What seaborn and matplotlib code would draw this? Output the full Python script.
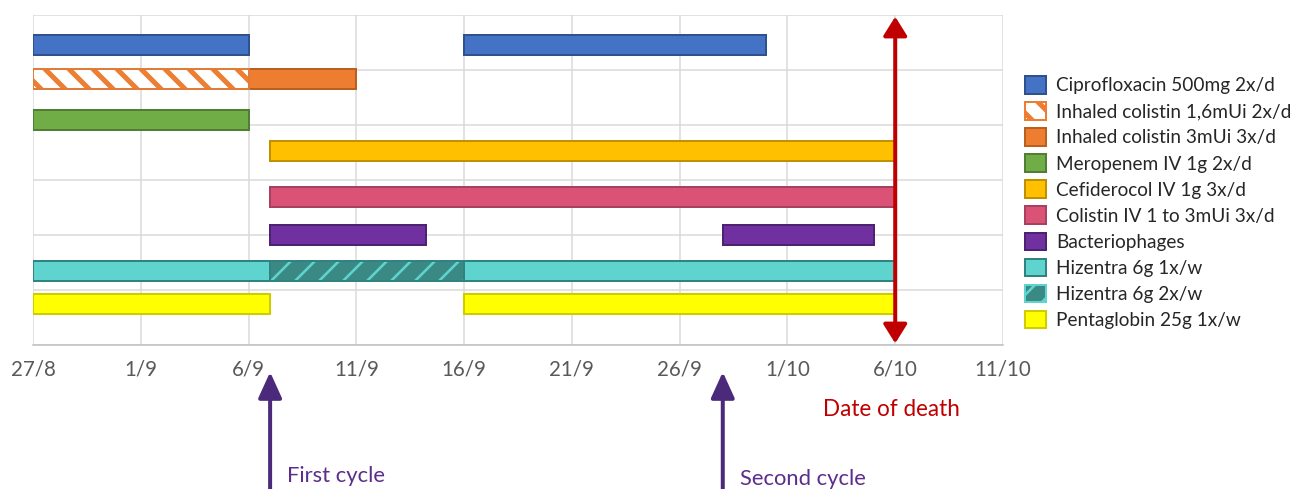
import matplotlib
matplotlib.use("Agg")
from matplotlib import pyplot as plt
from matplotlib.patches import Patch
from matplotlib.ticker import MultipleLocator, NullFormatter
import matplotlib.dates as mdates
import numpy as np
import pandas as pd
import seaborn as sns

# treatments as shown in the legend
labels = ["Ciprofloxacin 500mg 2x/d", "Inhaled colistin 1,6mUi 2x/d",
          "Inhaled colistin 3mUi 3x/d", "Meropenem IV 1g 2x/d",
          "Cefiderocol IV 1g 3x/d", "Colistin IV 1 to 3mUi 3x/d",
          "Bacteriophages", "Hizentra 6g 1x/w", "Hizentra 6g 2x/w",
          "Pentaglobin 25g 1x/w"]

# one entry per bar segment: row of the chart, legend item, start, end
seg_row = [0, 0, 1, 1, 2, 3, 4, 5, 5, 6, 6, 6, 7, 7]
seg_item = [0, 0, 1, 2, 3, 4, 5, 6, 6, 7, 8, 7, 9, 9]
seg_start = ["2020-08-27", "2020-09-16", "2020-08-27", "2020-09-06",
             "2020-08-27", "2020-09-07", "2020-09-07", "2020-09-07",
             "2020-09-28", "2020-08-27", "2020-09-07", "2020-09-16",
             "2020-08-27", "2020-09-16"]
seg_end = ["2020-09-06", "2020-09-30", "2020-09-06", "2020-09-11",
           "2020-09-06", "2020-10-06", "2020-10-06", "2020-09-14 06:00",
           "2020-10-05", "2020-09-07", "2020-09-16", "2020-10-06",
           "2020-09-07", "2020-10-06"]

death_date = "2020-10-06"
cycle_dates = ["2020-09-07", "2020-09-28"]
cycle_names = ["First cycle", "Second cycle"]
axis_start, axis_end = "2020-08-27", "2020-10-11"

# styling per legend item: fill, border, hatch
fills = ["#4472C4", "#FFFFFF", "#ED7D31", "#70AD47", "#FFC000", "#DA5377",
         "#7030A0", "#5FD3CD", "#3A8985", "#FFFF00"]
borders = ["#2F528F", "#E07B39", "#B9601F", "#507E32", "#BF9000", "#A8405F",
           "#4E2272", "#2F8380", "#2F8380", "#CFCC00"]
hatch_cols = [None, "#ED7D31", None, None, None, None, None, None, "#5FD3CD", None]
hatches = [None, "\\", None, None, None, None, None, None, "/", None]
hatch_lw = [0, 5.0, 0, 0, 0, 0, 0, 0, 2.6, 0]

# vertical layout (row centres on a 0..6 grid)
row_y = [5.455, 4.836, 4.091, 3.527, 2.697, 2.006, 1.349, 0.745]
bar_h = 0.36

sns.set_theme(style="white")
plt.rcParams["font.family"] = ["Lato", "DejaVu Sans"]
plt.rcParams["hatch.linewidth"] = 4.0

DPI = 72
fig = plt.figure(figsize=(1298 / DPI, 489 / DPI), dpi=DPI)
ax = fig.add_axes([33 / 1298, 1 - 345 / 489, (1003 - 33) / 1298, 330 / 489])

to_num = lambda s: mdates.date2num(pd.Timestamp(s))

for r, it, s, e in zip(seg_row, seg_item, seg_start, seg_end):
    left = to_num(s)
    width = to_num(e) - left
    y = row_y[r]
    if hatches[it]:
        b = ax.barh(y, width, left=left, height=bar_h, color=fills[it],
                    edgecolor=hatch_cols[it], hatch=hatches[it], linewidth=0, zorder=3)
        for p in b:
            if hasattr(p, "set_hatch_linewidth"):
                p.set_hatch_linewidth(hatch_lw[it])
    else:
        ax.barh(y, width, left=left, height=bar_h, color=fills[it],
                edgecolor=borders[it], linewidth=2, zorder=3)

# outlines over hatched segments
for r, it, s, e in zip(seg_row, seg_item, seg_start, seg_end):
    if hatches[it]:
        left = to_num(s)
        ax.barh(row_y[r], to_num(e) - left, left=left, height=bar_h,
                facecolor="none", edgecolor=borders[it], linewidth=2, zorder=4)

ax.set_xlim(to_num(axis_start), to_num(axis_end))
ax.set_ylim(0, 6)
major = pd.date_range(axis_start, axis_end, freq="5D")
ax.set_xticks(mdates.date2num(major))
ax.set_xticklabels([f"{d.day}/{d.month}" for d in major])
ax.xaxis.set_minor_locator(MultipleLocator(1))
ax.xaxis.set_minor_formatter(NullFormatter())
ax.set_yticks(range(7))
ax.set_yticklabels([])
ax.tick_params(axis="y", length=0)
ax.tick_params(axis="x", which="both", direction="inout", length=10, width=1.5,
               color="#BFBFBF", labelsize=20.5, labelcolor="#595959", pad=9)
ax.grid(True, which="major", color="#D9D9D9", linewidth=1.5, zorder=0)
ax.set_axisbelow(True)
for side in ["left", "top", "right"]:
    ax.spines[side].set_visible(False)
ax.spines["bottom"].set_color("#BFBFBF")
ax.spines["bottom"].set_linewidth(1.5)

# date of death arrow
dx = to_num(death_date)
ax.annotate("", xy=(dx, 5.97), xytext=(dx, 0.03),
            arrowprops=dict(arrowstyle="<|-|>,head_length=0.8,head_width=0.5",
                            color="#C00000", lw=4, mutation_scale=20,
                            shrinkA=0, shrinkB=0), zorder=6)
fig.text(891 / 1298, 1 - 409 / 489, "Date of death", color="#C00000",
         fontsize=22.5, ha="center", va="center")

# phage cycle arrows below the axis
for cd, name, ty in zip(cycle_dates, cycle_names, [476, 479]):
    cx = to_num(cd)
    ax.annotate("", xy=(cx, 117), xycoords=("data", "figure pixels"),
                xytext=(cx, -10), textcoords=("data", "figure pixels"),
                arrowprops=dict(arrowstyle="-|>,head_length=1.1,head_width=0.5",
                                color="#4B2A7B", lw=4, mutation_scale=20,
                                shrinkA=0, shrinkB=0), annotation_clip=False)
    xpix = ax.transData.transform((cx, 0))[0]
    fig.text((xpix + 17) / 1298, 1 - ty / 489, name, color="#5B2D8C",
             fontsize=22, ha="left", va="center")

handles = []
for i, lab in enumerate(labels):
    if hatches[i]:
        h = Patch(facecolor=fills[i], edgecolor=hatch_cols[i], hatch=hatches[i],
                  linewidth=2, label=lab)
    else:
        h = Patch(facecolor=fills[i], edgecolor=borders[i], linewidth=2, label=lab)
    handles.append(h)
leg = fig.legend(handles=handles, loc="upper left",
                 bbox_to_anchor=(1025 / 1298, 1 - 76 / 489),
                 frameon=False, fontsize=19, handlelength=1.1, handleheight=1.05,
                 handletextpad=0.55, labelspacing=0.41, borderpad=0, borderaxespad=0)
for p, lw in zip(leg.get_patches(), hatch_lw):
    if lw and hasattr(p, "set_hatch_linewidth"):
        p.set_hatch_linewidth(lw)

fig.savefig("out.png", dpi=DPI)
